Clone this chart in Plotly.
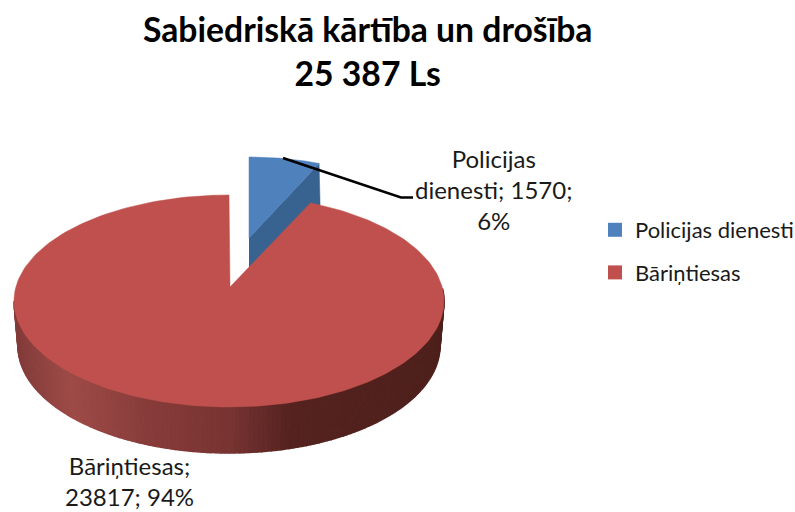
import numpy as np
import plotly.graph_objects as go

categories = ["Policijas dienesti", "Bāriņtiesas"]
values = [1570, 23817]
percents = [6, 94]
title_lines = ["Sabiedriskā kārtība un drošība", "25 387 Ls"]

FONT = "Lato"
BLUE, BLUE_DARK, RED = "#4f81bd", "#38628f", "#c0504d"

split = 2 * np.pi * values[0] / sum(values)


def rim(t, cx, cy, a, b):
    return cx + a * np.sin(t), cy - b * np.cos(t)


def poly(x, y, color, width=0.5):
    return go.Scatter(x=x, y=y, mode="lines", fill="toself", fillcolor=color,
                      line=dict(color=color, width=width), showlegend=False, hoverinfo="skip")


fig = go.Figure()

# blue slice (pulled out): side wall, then top
bt = np.linspace(0, split, 30)
bx, by = rim(bt, 249, 243, 185, 86)
ex, ey = rim(split, 249, 243, 185, 86)
fig.add_trace(poly([249, ex, ex + 1, 249], [238, ey, ey + 41, 279], BLUE_DARK))
fig.add_trace(poly(np.r_[249, bx, 249], np.r_[238, by, 238], BLUE))

# red slice side wall, shaded from left to right
stops_x = [14, 70, 150, 230, 290, 444]
stops_c = np.array([[130, 60, 58], [158, 75, 72], [135, 60, 58], [120, 52, 50], [85, 35, 32], [78, 32, 28]])
edges = np.linspace(np.pi / 2 - 0.12, 3 * np.pi / 2, 150)
for t0, t1 in zip(edges[:-1], edges[1:]):
    ts = np.array([t0, t1])
    tx, ty = rim(ts, 229, 301, 215, 106)
    lx, ly = rim(ts, 229, 346, 211, 107)
    mid = tx.mean()
    col = [int(np.interp(mid, stops_x, stops_c[:, i])) for i in range(3)]
    fig.add_trace(poly(np.r_[tx, lx[::-1]], np.r_[ty, ly[::-1]], "rgb(%d,%d,%d)" % tuple(col), 1.5))

# red slice top
rt = np.linspace(split, 2 * np.pi, 240)
rx, ry = rim(rt, 229, 301, 215, 106)
fig.add_trace(poly(np.r_[230, rx, 230], np.r_[287, ry, 287], RED))

# leader line
fig.add_trace(go.Scatter(x=[283, 401, 413], y=[158, 197.5, 197.5], mode="lines",
                         line=dict(color="black", width=2.5), showlegend=False, hoverinfo="skip"))

# legend entries
for i, (name, color) in enumerate(zip(categories, [BLUE, RED])):
    fig.add_trace(go.Scatter(x=[None], y=[None], mode="markers", name=name, legendgroup=str(i),
                             marker=dict(symbol="square", size=14, color=color)))

labels = [
    (f"{categories[0].split()[0]}<br>{categories[0].split()[1]}; {values[0]};<br>{percents[0]}%", 494, 189),
    (f"{categories[1]};<br>{values[1]}; {percents[1]}%", 129, 481),
]
annotations = [dict(x=x, y=y, text=t, showarrow=False, xref="x", yref="y", align="center",
                    font=dict(family=FONT, size=24, color="#1a1a1a")) for t, x, y in labels]
annotations.append(dict(x=367.5, y=51, text=f"<b>{title_lines[0]}<br>{title_lines[1]}</b>", showarrow=False,
                        xref="x", yref="y", align="center", font=dict(family=FONT, size=33.7, color="black")))

# figure runs a little past the window so that the legend is not squeezed
W, H = 815, 525
fig.update_layout(
    width=W, height=H, margin=dict(l=0, r=0, t=0, b=0), autosize=False,
    paper_bgcolor="white", plot_bgcolor="white",
    xaxis=dict(range=[0, W], visible=False, fixedrange=True),
    yaxis=dict(range=[H, 0], visible=False, fixedrange=True),
    annotations=annotations,
    legend=dict(x=595 / W, y=1 - 209 / H, xanchor="left", yanchor="top",
                font=dict(family=FONT, size=22, color="#1a1a1a"), tracegroupgap=11, itemclick=False),
)
fig.write_html("out.html", config={"displayModeBar": False},
               post_script="document.body.style.margin='0';")
